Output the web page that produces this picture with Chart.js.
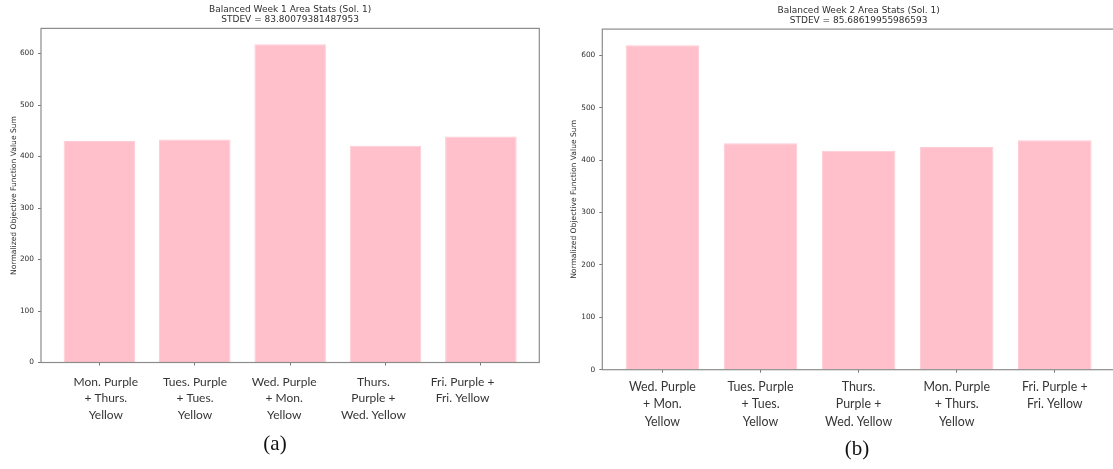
<!DOCTYPE html>
<html>
<head>
<meta charset="utf-8">
<script src="https://cdn.jsdelivr.net/npm/chart.js@4/dist/chart.umd.min.js"></script>
<style>
  html, body { margin: 0; padding: 0; background: #fff; width: 1113px; height: 469px; overflow: hidden; }
  .panel { position: absolute; top: 0; width: 560px; height: 469px; }
  #panelA { left: 0; }
  #panelB { left: 560px; }
  .caption { position: absolute; font-family: "Liberation Serif", "DejaVu Serif", serif; font-size: 21px; color: #111;
             transform: translate(-50%, -50%); white-space: nowrap; }
</style>
</head>
<body>
<div class="panel" id="panelA"><canvas id="chartA" width="560" height="469"></canvas></div>
<div class="panel" id="panelB"><canvas id="chartB" width="560" height="469"></canvas></div>
<div class="caption" style="left:275px; top:443px;">(a)</div>
<div class="caption" style="left:857px; top:448px;">(b)</div>

<script>
// Week 1 pairings and their summed objective values
const week1Categories = [
  ['Mon. Purple', '+ Thurs.', 'Yellow'],
  ['Tues. Purple', '+ Tues.', 'Yellow'],
  ['Wed. Purple', '+ Mon.', 'Yellow'],
  ['Thurs.', 'Purple +', 'Wed. Yellow'],
  ['Fri. Purple +', 'Fri. Yellow']
];
const week1Values = [430, 433, 618, 421, 439];
const week1Title = ['Balanced Week 1 Area Stats (Sol. 1)', 'STDEV = 83.80079381487953'];

// Week 2 pairings and their summed objective values
const week2Categories = [
  ['Wed. Purple', '+ Mon.', 'Yellow'],
  ['Tues. Purple', '+ Tues.', 'Yellow'],
  ['Thurs.', 'Purple +', 'Wed. Yellow'],
  ['Mon. Purple', '+ Thurs.', 'Yellow'],
  ['Fri. Purple +', 'Fri. Yellow']
];
const week2Values = [619, 432, 418, 425, 438];
const week2Title = ['Balanced Week 2 Area Stats (Sol. 1)', 'STDEV = 85.68619955986593'];

const yTicks = [0, 100, 200, 300, 400, 500, 600];
const yAxisTitle = 'Normalized Objective Function Value Sum';

const BAR_PINK = '#ffc0cb';
const FRAME = '#8c8c8c';
const TEXT = '#2f2f2f';

// Draws the full rectangular frame around the plotting area, on top of the bars
const framePlugin = {
  id: 'frame',
  afterDatasetsDraw(chart) {
    const { ctx, chartArea: a } = chart;
    ctx.save();
    ctx.strokeStyle = FRAME;
    ctx.lineWidth = 1.2;
    ctx.strokeRect(a.left, a.top, a.right - a.left, a.bottom - a.top);
    ctx.restore();
  }
};

function makePanel(canvasId, categories, values, titleLines, geo) {
  const idx = categories.map((_, i) => i);
  const points = values.map((v, i) => ({ x: i, y: v }));
  const yMax = Math.max(...values) * 1.05;

  return new Chart(document.getElementById(canvasId), {
    type: 'bar',
    data: {
      datasets: [{
        data: points,
        xAxisID: 'x',
        backgroundColor: BAR_PINK,
        borderColor: '#ffcbd4',
        borderWidth: 1,
        barPercentage: 0.75,
        categoryPercentage: 1.0
      }]
    },
    options: {
      responsive: false,
      animation: false,
      events: [],
      layout: { padding: { top: geo.padTop, right: geo.padRight, bottom: geo.padBottom, left: 0 } },
      plugins: {
        legend: { display: false },
        tooltip: { enabled: false },
        title: {
          display: true,
          fullSize: false,
          text: titleLines,
          color: TEXT,
          font: { family: 'DejaVu Sans', size: 9, weight: 'normal', lineHeight: 1.15 },
          padding: { top: 4, bottom: 3.3 }
        }
      },
      scales: {
        x: {
          type: 'linear',
          position: 'bottom',
          offset: false,
          min: -0.6125,
          max: 4.6125,
          afterBuildTicks(s) { s.ticks = idx.map(v => ({ value: v })); },
          afterFit(s) { s.height = 3; },
          ticks: { display: false },
          border: { display: false },
          grid: { offset: false, drawOnChartArea: false, drawTicks: true, tickLength: 3, color: '#777', lineWidth: 1 }
        },
        labels: {
          type: 'linear',
          position: 'bottom',
          offset: false,
          min: geo.labelMin,
          max: geo.labelMax,
          afterBuildTicks(s) { s.ticks = idx.map(v => ({ value: v })); },
          afterFit(s) { s.height = 60; },
          border: { display: false },
          grid: { offset: false, display: false, drawTicks: false },
          ticks: {
            autoSkip: false,
            maxRotation: 0,
            minRotation: 0,
            padding: geo.labelPad,
            color: '#363636',
            font: { family: 'Lato', size: geo.labelSize, lineHeight: geo.labelLine },
            callback: (v) => categories[v]
          }
        },
        y: {
          type: 'linear',
          position: 'left',
          min: 0,
          max: yMax,
          afterBuildTicks(s) { s.ticks = yTicks.map(v => ({ value: v })); },
          afterFit(s) { s.width = geo.yWidth; },
          border: { display: false },
          grid: { drawOnChartArea: false, drawTicks: true, tickLength: 3, color: '#777', lineWidth: 1 },
          ticks: {
            padding: 4,
            color: TEXT,
            font: { family: 'DejaVu Sans', size: 7.4 }
          },
          title: {
            display: true,
            text: yAxisTitle,
            color: TEXT,
            font: { family: 'DejaVu Sans', size: 7.6, lineHeight: 1.2 },
            padding: { top: 9.7, bottom: 0 }
          }
        }
      }
    },
    plugins: [framePlugin]
  });
}

makePanel('chartA', week1Categories, week1Values, week1Title, {
  padTop: 0.4, padRight: 20.7, padBottom: 43.5, yWidth: 41,
  labelMin: -0.7265, labelMax: 4.86, labelPad: 7.8, labelSize: 12, labelLine: '16.7px'
});

makePanel('chartB', week2Categories, week2Values, week2Title, {
  padTop: 1.1, padRight: 5.1, padBottom: 36.3, yWidth: 42.3,
  labelMin: -0.6125, labelMax: 4.6125, labelPad: 5.2, labelSize: 12.4, labelLine: '17.5px'
});
</script>
</body>
</html>
